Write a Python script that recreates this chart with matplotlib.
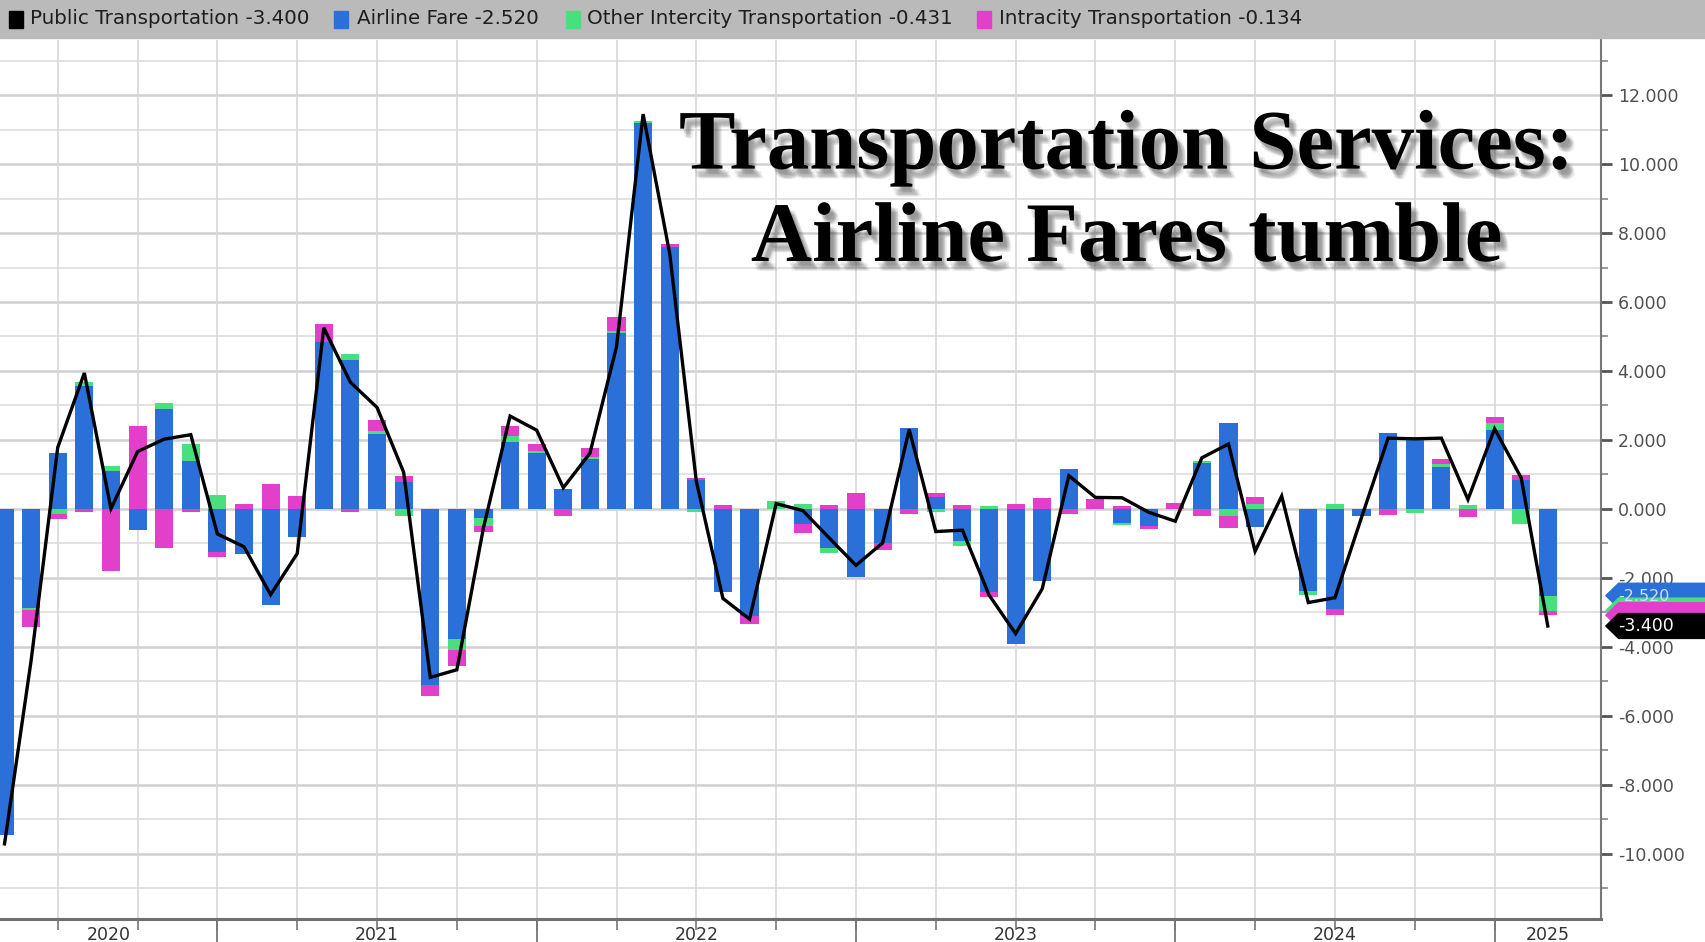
import matplotlib
matplotlib.use('Agg')
import matplotlib.pyplot as plt
import matplotlib.patheffects as pe
from matplotlib.patches import Rectangle, Polygon
from matplotlib.transforms import blended_transform_factory
import numpy as np
import pandas as pd

# monthly contributions, May 2020 .. Mar 2025
months = pd.date_range('2020-05-01', periods=59, freq='MS')

public = [-9.72, -4.4, 1.78, 3.94, 0.0, 1.66, 2.02, 2.15, -0.73, -1.1,
          -2.49, -1.3, 5.25, 3.67, 2.94, 1.06, -4.89, -4.67, -0.55, 2.69,
          2.28, 0.61, 1.61, 4.7, 11.45, 7.4, 0.8, -2.6, -3.2, 0.15,
          -0.05, -0.85, -1.64, -0.99, 2.3, -0.66, -0.62, -2.5, -3.62, -2.32,
          0.96, 0.33, 0.32, -0.1, -0.36, 1.48, 1.88, -1.23, 0.37, -2.72,
          -2.58, -0.25, 2.05, 2.03, 2.05, 0.27, 2.32, 0.9, -3.4]
airline = [-9.45, -2.87, 1.63, 3.55, 1.1, -0.62, 2.9, 1.4, -1.24, -1.3,
           -2.8, -0.81, 4.85, 4.33, 2.17, 0.78, -5.1, -3.78, -0.28, 1.94,
           1.61, 0.58, 1.44, 5.1, 11.2, 7.6, 0.85, -2.4, -3.1, 0.0,
           -0.43, -1.13, -1.97, -0.99, 2.35, 0.35, -0.93, -2.4, -3.93, -2.1,
           1.16, 0.0, -0.41, -0.5, 0.0, 1.33, 2.5, -0.52, 0.0, -2.39,
           -2.92, -0.21, 2.2, 2.0, 1.22, 0.0, 2.3, 0.85, -2.52]
other = [0.0, -0.08, -0.15, 0.12, 0.15, 0.0, 0.16, 0.47, 0.41, 0.0,
         0.0, 0.0, 0.0, 0.17, 0.08, -0.22, 0.0, -0.33, -0.22, 0.17,
         0.08, 0.0, 0.05, 0.05, 0.05, 0.0, -0.1, 0.0, 0.0, 0.22,
         0.15, -0.14, 0.0, 0.0, 0.0, -0.1, -0.14, 0.08, 0.0, 0.0,
         0.0, 0.0, -0.07, 0.0, 0.0, 0.05, -0.21, 0.15, 0.0, -0.1,
         0.15, 0.0, 0.0, -0.12, 0.07, 0.1, 0.2, -0.45, -0.431]
intracity = [0.0, -0.47, -0.15, -0.1, -1.81, 2.41, -1.14, -0.1, -0.15, 0.15,
             0.73, 0.36, 0.5, -0.1, 0.33, 0.17, -0.33, -0.44, -0.17, 0.28,
             0.2, -0.22, 0.26, 0.4, 0.0, 0.08, 0.05, 0.1, -0.25, 0.0,
             -0.27, 0.1, 0.46, -0.21, -0.16, 0.1, 0.1, -0.15, 0.15, 0.32,
             -0.16, 0.28, 0.08, -0.1, 0.17, -0.21, -0.36, 0.2, 0.0, 0.0,
             -0.15, 0.0, -0.19, 0.0, 0.16, -0.25, 0.15, 0.12, -0.134]

names = ['Public Transportation', 'Airline Fare',
         'Other Intercity Transportation', 'Intracity Transportation']
colors = ['#000000', '#2b70d8', '#48df7c', '#e23fca']
title_lines = ['Transportation Services:', 'Airline Fares tumble']

W, H = 1706, 942
fig = plt.figure(figsize=(W / 100, H / 100), dpi=100)
ax_right_px, ax_top_px, ax_bot_px = 1601, 40, 919
ax = fig.add_axes([0, 1 - ax_bot_px / H, ax_right_px / W, (ax_bot_px - ax_top_px) / H])

x = np.arange(len(months))
xlim = (-0.17, 60.0)
ax.set_xlim(*xlim)
ax.set_ylim(-11.9, 13.6)

# stacked bars, positives up and negatives down
pos_base = np.zeros(len(x))
neg_base = np.zeros(len(x))
for vals, col in zip([airline, other, intracity], colors[1:]):
    v = np.array(vals)
    base = np.where(v >= 0, pos_base, neg_base)
    ax.bar(x, v, bottom=base, width=0.68, color=col, zorder=2, linewidth=0)
    pos_base += np.clip(v, 0, None)
    neg_base += np.clip(v, None, 0)

ax.plot(x, public, color='black', lw=2.4, zorder=4, solid_joinstyle='miter')

# grid
for yv in np.arange(-11, 14):
    major = yv % 2 == 0
    ax.axhline(yv, color='#d0d0d0' if major else '#dfdfdf',
               lw=1.8 if major else 1.3, zorder=0)
quarters = x[np.isin(months.month, [1, 4, 7, 10])]
for q in quarters:
    ax.axvline(q, color='#d8d8d8', lw=1.2, zorder=0)

# axes styling
for s in ['left', 'top']:
    ax.spines[s].set_visible(False)
ax.spines['right'].set_color('#777777')
ax.spines['right'].set_linewidth(1.5)
ax.spines['bottom'].set_color('#6f6f6f')
ax.spines['bottom'].set_linewidth(2.2)

ax.yaxis.tick_right()
ax.set_yticks(np.arange(-10, 13, 2))
ax.set_yticks(np.arange(-11, 14, 1), minor=True)
ax.set_yticklabels(['%.3f' % v for v in np.arange(-10, 13, 2)])
ax.tick_params(axis='y', which='major', length=8, width=2, color='#555555',
               labelsize=12.5, labelcolor='#505050', pad=4)
ax.tick_params(axis='y', which='minor', length=5, width=1.2, color='#888888')

ax.set_xticks(quarters)
ax.set_xticklabels([])
ax.tick_params(axis='x', which='major', length=8, width=1.2, color='#777777')

# year separators and labels
bt = blended_transform_factory(ax.transData, ax.transAxes)
jan = list(x[months.month == 1])
for b in jan:
    ax.plot([b, b], [0, -0.04], transform=bt, color='#777777', lw=1.3, clip_on=False)
edges = [xlim[0]] + jan + [xlim[1]]
years = sorted(set(months.year))
for i, yr in enumerate(years):
    ax.text((edges[i] + edges[i + 1]) / 2, -0.0185, str(yr), transform=bt,
            ha='center', va='center', fontsize=12.5, color='#333333')

# title with drop shadow
shadow = [pe.SimplePatchShadow(offset=(dx, -dy), shadow_rgbFace='#444444', alpha=0.09)
          for dx, dy in [(2, 3), (3, 4), (4, 5), (5, 6), (3, 6), (5, 4), (6, 7), (4, 7)]]
for txt, yy in zip(title_lines, [0.8537, 0.7486]):
    ax.text(0.704, yy, txt, transform=ax.transAxes, ha='center', va='baseline',
            family='Liberation Serif', fontweight='bold', fontsize=61,
            color='black', zorder=6, path_effects=shadow + [pe.Normal()])

# legend strip
fig.patches.append(Rectangle((0, 1 - 38 / H), 1, 38 / H, transform=fig.transFigure,
                             color='#bababa', zorder=0))
leg_sq = [9, 334, 566, 977]
leg_tx = [30, 357, 587, 999]
last = [public[-1], airline[-1], other[-1], intracity[-1]]
for sx, tx, nm, col, lv in zip(leg_sq, leg_tx, names, colors, last):
    fig.patches.append(Rectangle((sx / W, 1 - 28 / H), 14 / W, 17 / H,
                                 transform=fig.transFigure, color=col))
    fig.text(tx / W, 1 - 19 / H, '%s %.3f' % (nm, lv), ha='left', va='center',
             fontsize=14.3, color='#1e1e1e')

# last value tags on the right axis (stacked bar tops, then the total)
tr = blended_transform_factory(ax.transAxes, ax.transData)
right = W / ax_right_px + 0.01
stack = np.cumsum([airline[-1], other[-1], intracity[-1]])
tag_y = list(stack) + [public[-1]]
tag_cols = colors[1:] + [colors[0]]
h = 0.36
for yv, col in zip(tag_y, tag_cols):
    poly = Polygon([(1.003, yv), (1.011, yv + h), (right, yv + h), (right, yv - h),
                    (1.011, yv - h)], closed=True, transform=tr, color=col,
                   clip_on=False, zorder=10)
    ax.add_patch(poly)
# only the uncovered labels stay readable
ax.text(1.0105, stack[0] - 0.03, '%.3f' % airline[-1], transform=tr, ha='left',
        va='center', fontsize=11.5, color='#cfe0ff', zorder=10.5, clip_on=False)
ax.text(1.0105, public[-1], '%.3f' % public[-1], transform=tr, ha='left', va='center',
        fontsize=12.5, color='white', zorder=11, clip_on=False)

fig.savefig('out.png', dpi=100)
